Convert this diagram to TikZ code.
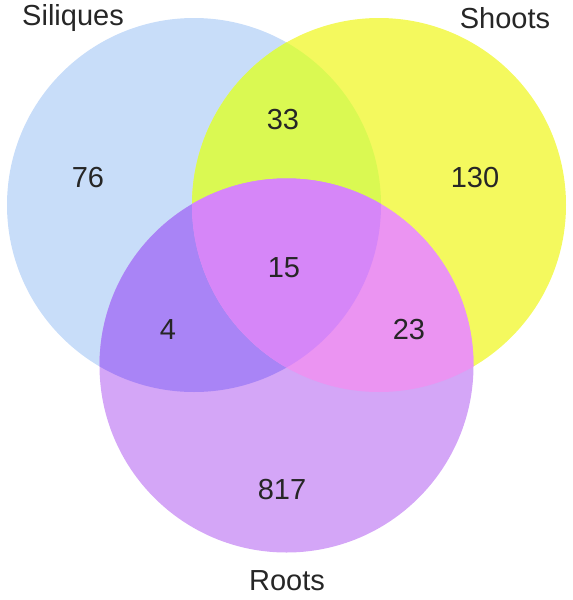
\documentclass[tikz,border=0pt]{standalone}
\usepackage{fontspec}
\setmainfont{Liberation Sans}
\definecolor{cblue}{RGB}{200,221,249}
\definecolor{cyellow}{RGB}{244,249,94}
\definecolor{cby}{RGB}{218,249,82}
\definecolor{cpurple}{RGB}{212,166,247}
\definecolor{cbp}{RGB}{169,132,246}
\definecolor{cyp}{RGB}{235,148,242}
\definecolor{call}{RGB}{214,134,248}
\begin{document}
\begin{tikzpicture}[x=1pt,y=-1pt,
  lbl/.style={font=\fontsize{29}{34}\selectfont, text=black!85, inner sep=0pt, anchor=center}]
\useasboundingbox (0,0) rectangle (573,600);
\def\blueC{(194,205) circle (187)}
\def\yellowC{(379,205) circle (187)}
\def\purpleC{(286.5,365.5) circle (187)}
\fill[cblue] \blueC;
\fill[cyellow] \yellowC;
\fill[cpurple] \purpleC;
\begin{scope}\clip \blueC; \fill[cby] \yellowC; \end{scope}
\begin{scope}\clip \blueC; \fill[cbp] \purpleC; \end{scope}
\begin{scope}\clip \yellowC; \fill[cyp] \purpleC; \end{scope}
\begin{scope}\clip \blueC; \clip \yellowC; \fill[call] \purpleC; \end{scope}
\node[lbl] (sil) at (73,18) {Siliques};
\node[lbl] (sho) at (505,18) {Shoots};
\node[lbl] (roo) at (287,581) {Roots};
\node[lbl] (n76) at (88,178) {76};
\node[lbl] (n33) at (283,120) {33};
\node[lbl] (n130) at (475,178) {130};
\node[lbl] (n15) at (284,268) {15};
\node[lbl] (n4) at (168,330) {4};
\node[lbl] (n23) at (409,330) {23};
\node[lbl] (n817) at (282,490) {817};
\end{tikzpicture}
\end{document}
